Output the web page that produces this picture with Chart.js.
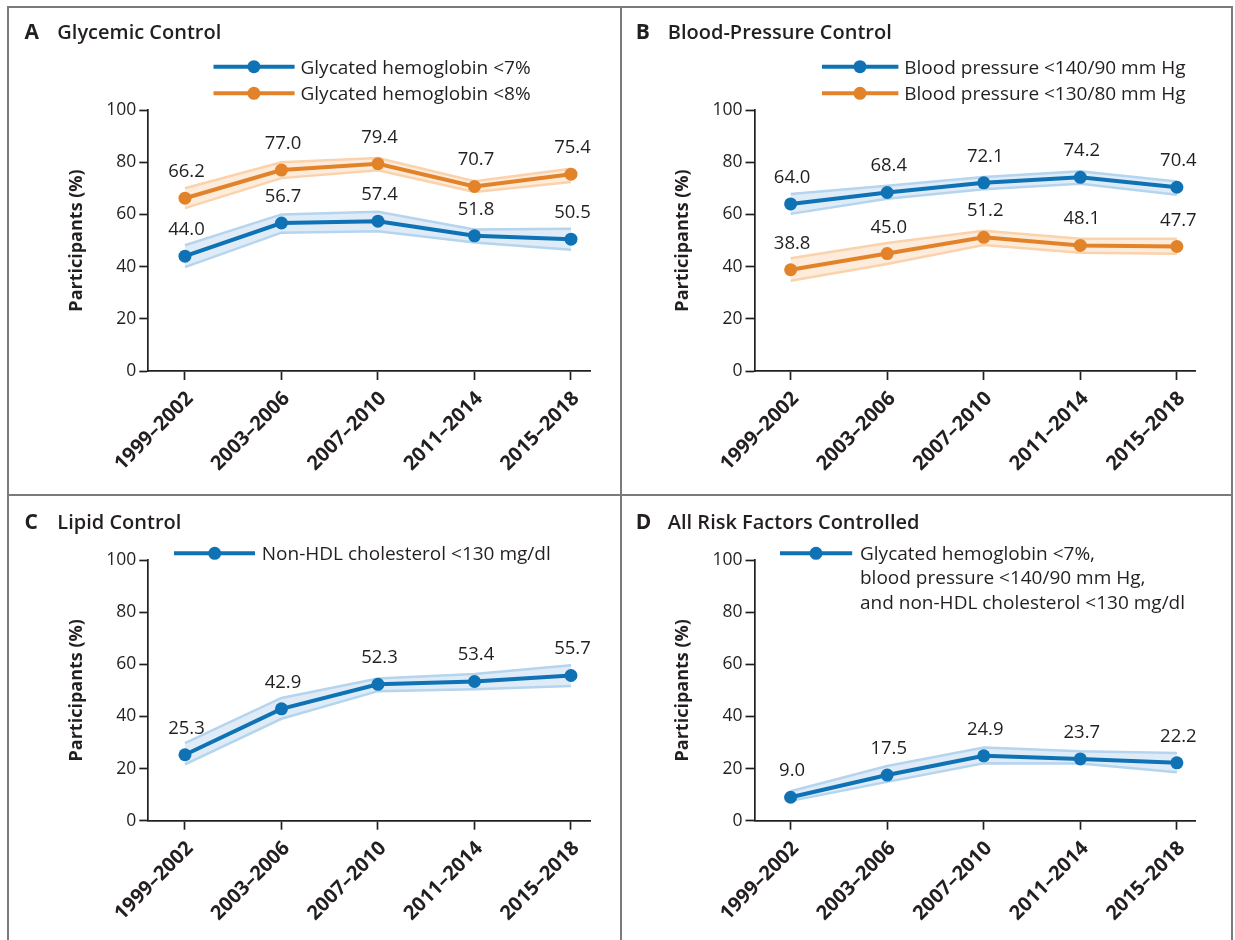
<!DOCTYPE html>
<html><head><meta charset="utf-8">
<script src="https://cdn.jsdelivr.net/npm/chart.js@4.4.0/dist/chart.umd.min.js"></script>
<style>
html,body{margin:0;padding:0;background:#fff;width:1235px;height:940px;overflow:hidden;}
canvas{position:absolute;}
.ln{position:absolute;background:#7b7b7b;}
</style></head><body>
<div class="ln" style="left:7px;top:6px;width:1226px;height:2px"></div>
<div class="ln" style="left:7px;top:6px;width:2px;height:934px"></div>
<div class="ln" style="left:1231px;top:6px;width:2px;height:934px"></div>
<div class="ln" style="left:620px;top:6px;width:2px;height:934px"></div>
<div class="ln" style="left:7px;top:494px;width:1226px;height:2px"></div>
<canvas id="cA" width="621" height="495" style="left:0;top:0;width:621px;height:495px"></canvas>
<canvas id="cB" width="614" height="495" style="left:621px;top:0;width:614px;height:495px"></canvas>
<canvas id="cC" width="621" height="445" style="left:0;top:495px;width:621px;height:445px"></canvas>
<canvas id="cD" width="614" height="445" style="left:621px;top:495px;width:614px;height:445px"></canvas>
<script>
// ---------- data ----------
const periods = ['1999–2002','2003–2006','2007–2010','2011–2014','2015–2018'];
const yTicks = [0,20,40,60,80,100];

const hba1c7    = [44.0, 56.7, 57.4, 51.8, 50.5];
const hba1c7Lo  = [39.8, 53.0, 53.5, 49.2, 46.5];
const hba1c7Hi  = [48.2, 60.0, 61.0, 54.2, 54.5];
const hba1c8    = [66.2, 77.0, 79.4, 70.7, 75.4];
const hba1c8Lo  = [62.4, 73.9, 76.9, 68.6, 72.4];
const hba1c8Hi  = [70.0, 80.0, 81.6, 72.7, 77.5];

const bp140     = [64.0, 68.4, 72.1, 74.2, 70.4];
const bp140Lo   = [60.2, 66.0, 69.6, 71.7, 67.5];
const bp140Hi   = [67.8, 71.0, 74.3, 76.5, 72.6];
const bp130     = [38.8, 45.0, 51.2, 48.1, 47.7];
const bp130Lo   = [34.6, 41.0, 48.3, 45.3, 44.9];
const bp130Hi   = [43.2, 49.0, 53.7, 50.7, 50.7];

const nonHdl    = [25.3, 42.9, 52.3, 53.4, 55.7];
const nonHdlLo  = [21.6, 39.1, 49.7, 50.4, 51.7];
const nonHdlHi  = [29.8, 47.1, 54.5, 56.3, 59.6];

const allCtrl   = [9.0, 17.5, 24.9, 23.7, 22.2];
const allCtrlLo = [7.6, 14.9, 22.0, 21.9, 18.6];
const allCtrlHi = [11.3, 21.0, 28.1, 26.6, 26.0];

const titles = { A:'Glycemic Control', B:'Blood-Pressure Control', C:'Lipid Control', D:'All Risk Factors Controlled' };
const legendA = ['Glycated hemoglobin <7%', 'Glycated hemoglobin <8%'];
const legendB = ['Blood pressure <140/90 mm Hg', 'Blood pressure <130/80 mm Hg'];
const legendC = ['Non-HDL cholesterol <130 mg/dl'];
const legendD = ['Glycated hemoglobin <7%,', 'blood pressure <140/90 mm Hg,', 'and non-HDL cholesterol <130 mg/dl'];
const yTitle = 'Participants (%)';

// ---------- styles ----------
const BLUE = '#0f72b4', BLUE_EDGE = '#b5d4ee', BLUE_FILL = '#dfecf8';
const ORANGE = '#e2832a', ORANGE_EDGE = '#fad2ab', ORANGE_FILL = '#fdecdb';
const INK = '#231f20';
const FONT = '"Open Sans", "Noto Sans", sans-serif';

const blueS = (v, lo, hi) => ({vals:v, lo, hi, color:BLUE, edge:BLUE_EDGE, band:BLUE_FILL});
const orangeS = (v, lo, hi) => ({vals:v, lo, hi, color:ORANGE, edge:ORANGE_EDGE, band:ORANGE_FILL});

const deco = {
  id: 'deco',
  afterDatasetsDraw(chart) {
    const o = chart.options.plugins.deco;
    const ctx = chart.ctx;
    ctx.save();
    // value labels
    ctx.font = '18.5px ' + FONT; ctx.fillStyle = INK; ctx.textAlign = 'center'; ctx.textBaseline = 'alphabetic';
    chart.data.datasets.forEach((ds, di) => {
      if (!ds.isMain) return;
      const meta = chart.getDatasetMeta(di);
      meta.data.forEach((pt, i) => {
        ctx.fillText(ds.data[i].y.toFixed(1), pt.x + 1.5, pt.y - 21);
      });
    });
    // panel title
    ctx.textAlign = 'left';
    ctx.font = 'bold 21px ' + FONT;
    ctx.fillText(o.letter, o.letterX, o.titleY);
    ctx.font = '600 20px ' + FONT;
    ctx.fillText(o.title, o.titleX, o.titleY);
    // legend
    o.legend.forEach(item => {
      ctx.strokeStyle = item.color; ctx.lineWidth = 4; ctx.lineCap = 'butt';
      ctx.beginPath(); ctx.moveTo(o.lg.x1, item.y); ctx.lineTo(o.lg.x2, item.y); ctx.stroke();
      ctx.fillStyle = item.color;
      ctx.beginPath(); ctx.arc(o.lg.cx, item.y, 6.5, 0, Math.PI*2); ctx.fill();
      ctx.fillStyle = INK; ctx.font = '19px ' + FONT;
      item.lines.forEach((t, k) => ctx.fillText(t, o.lg.tx, item.y + 6.8 + k * o.lg.lineGap));
    });
    ctx.restore();
  }
};

function makePanel(id, P) {
  const datasets = [];
  P.series.forEach((s, k) => {
    datasets.push({ data: s.hi.map((v,i)=>({x:i, y:v})), borderColor: s.edge, borderWidth: 2.5,
      pointRadius: 0, fill: false, order: 10 + 2*k, tension: 0 });
    datasets.push({ data: s.lo.map((v,i)=>({x:i, y:v})), borderColor: s.edge, borderWidth: 2.5,
      pointRadius: 0, fill: '-1', backgroundColor: s.band, order: 11 + 2*k, tension: 0 });
  });
  P.series.forEach(s => {
    datasets.push({ data: s.vals.map((v,i)=>({x:i, y:v})), borderColor: s.color, backgroundColor: s.color,
      borderWidth: 4, pointRadius: 6.5, pointBackgroundColor: s.color, pointBorderWidth: 0,
      fill: false, order: 0, isMain: true, tension: 0 });
  });
  const tickFont = { family: FONT, size: 17.5 };
  return new Chart(document.getElementById(id), {
    type: 'line',
    data: { datasets },
    plugins: [deco],
    options: {
      responsive: false, animation: false, devicePixelRatio: 1,
      layout: { padding: { left: 0, top: P.top, right: P.right, bottom: 0 } },
      plugins: {
        legend: { display: false }, tooltip: { enabled: false },
        deco: P.deco
      },
      scales: {
        x: {
          type: 'linear', min: P.xmin, max: P.xmax,
          afterBuildTicks: s => { s.ticks = periods.map((_, i) => ({ value: i })); },
          afterFit: s => { s.height = P.xh; },
          ticks: { callback: v => periods[v], minRotation: 45, maxRotation: 45, autoSkip: false,
                   padding: 7, labelOffset: 5, color: INK, font: { family: FONT, size: 20, weight: 'bold' } },
          grid: { drawOnChartArea: false, drawTicks: true, tickLength: 9, tickWidth: 1.7, tickColor: INK },
          border: { display: true, color: INK, width: 1.7 }
        },
        y: {
          type: 'linear', min: 0, max: 100,
          afterBuildTicks: s => { s.ticks = yTicks.map(v => ({ value: v })); },
          afterFit: s => { s.width = P.yw; },
          ticks: { padding: 3, color: INK, font: tickFont },
          grid: { drawOnChartArea: false, drawTicks: true, tickLength: 9, tickWidth: 1.7, tickColor: INK },
          border: { display: true, color: INK, width: 1.7 },
          title: { display: true, text: yTitle, color: INK,
                   font: { family: FONT, size: 18, weight: 'bold' },
                   padding: { top: P.ytc - 10.8, bottom: 0 } }
        }
      }
    }
  });
}

function build() {
  makePanel('cA', {
    top: 110, right: 31, yw: 148.3, xh: 124, xmin: -0.380, xmax: 4.197, ytc: 77.1,
    series: [orangeS(hba1c8, hba1c8Lo, hba1c8Hi), blueS(hba1c7, hba1c7Lo, hba1c7Hi)],
    deco: { letter: 'A', letterX: 24.5, title: titles.A, titleX: 57.3, titleY: 39.2,
      lg: { x1: 213.5, x2: 294.6, cx: 253.9, tx: 300.5, lineGap: 24 },
      legend: [ { color: BLUE, y: 66.7, lines: [legendA[0]] }, { color: ORANGE, y: 93.3, lines: [legendA[1]] } ] }
  });
  makePanel('cB', {
    top: 110, right: 39.3, yw: 133.5, xh: 124, xmin: -0.374, xmax: 4.195, ytc: 61.7,
    series: [blueS(bp140, bp140Lo, bp140Hi), orangeS(bp130, bp130Lo, bp130Hi)],
    deco: { letter: 'B', letterX: 14.7, title: titles.B, titleX: 46.8, titleY: 39.2,
      lg: { x1: 201, x2: 277.4, cx: 239, tx: 283.3, lineGap: 24 },
      legend: [ { color: BLUE, y: 66.7, lines: [legendB[0]] }, { color: ORANGE, y: 93.3, lines: [legendB[1]] } ] }
  });
  makePanel('cC', {
    top: 65, right: 31, yw: 148.3, xh: 119.3, xmin: -0.380, xmax: 4.197, ytc: 77.1,
    series: [blueS(nonHdl, nonHdlLo, nonHdlHi)],
    deco: { letter: 'C', letterX: 24.5, title: titles.C, titleX: 57.3, titleY: 34.2,
      lg: { x1: 174, x2: 255, cx: 214.7, tx: 261.8, lineGap: 24 },
      legend: [ { color: BLUE, y: 58.3, lines: legendC } ] }
  });
  makePanel('cD', {
    top: 65, right: 39.3, yw: 133.5, xh: 119.3, xmin: -0.374, xmax: 4.195, ytc: 61.7,
    series: [blueS(allCtrl, allCtrlLo, allCtrlHi)],
    deco: { letter: 'D', letterX: 14.7, title: titles.D, titleX: 46.8, titleY: 34.2,
      lg: { x1: 159, x2: 231.2, cx: 195, tx: 239, lineGap: 24.2 },
      legend: [ { color: BLUE, y: 58.3, lines: legendD } ] }
  });
}

const fontLoads = ['18px "Open Sans"', 'bold 18px "Open Sans"', '600 18px "Open Sans"'].map(f => document.fonts.load(f));
Promise.all(fontLoads).then(build, build);
</script>
</body></html>
